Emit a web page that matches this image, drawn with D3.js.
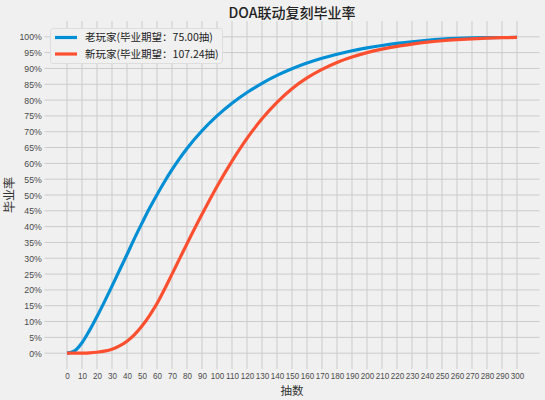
<!DOCTYPE html>
<html>
<head>
<meta charset="utf-8">
<script src="https://cdn.jsdelivr.net/npm/d3@7"></script>
<style>
html,body{margin:0;padding:0;background:#f0f0f0;}
svg{display:block;}
text{font-family:"Noto Sans CJK SC","Noto Sans",sans-serif;}
.tick text{font-family:"Liberation Sans",Arial,sans-serif;}
</style>
</head>
<body>
<svg id="chart" width="545" height="400"></svg>
<script>
// ---- data ----
const pulls = [0,5,10,15,20,25,30,35,40,45,50,55,60,65,70,75,80,90,100,110,120,130,140,150,160,170,180,190,200,210,220,230,240,250,260,270,280,290,300];
const oldPlayer = [0,0.7,3.3,7.2,11.6,16.3,21.2,26.2,31.2,36.3,41.1,45.8,50.1,54.2,58.0,61.5,64.7,70.3,75.0,79.0,82.4,85.3,87.8,89.9,91.7,93.2,94.5,95.6,96.5,97.25,97.9,98.45,98.9,99.25,99.5,99.65,99.73,99.78,99.8];
const newPlayer = [0,0.01,0.04,0.12,0.3,0.65,1.25,2.3,3.8,5.9,8.6,11.9,15.7,20.2,25.0,29.8,34.6,43.9,52.7,60.7,67.9,74.1,79.3,83.6,87.0,89.7,91.9,93.6,95.0,96.1,97.0,97.7,98.3,98.75,99.1,99.38,99.58,99.72,99.8];
const seriesNames = ["老玩家(毕业期望：75.00抽)","新玩家(毕业期望：107.24抽)"];
const seriesColors = ["#008fd5","#fc4f30"];
const xTicks = d3.range(0,301,10);
const yTicks = d3.range(0,101,5);
const titleText = "DOA联动复刻毕业率";
const xLabel = "抽数";
const yLabel = "毕业率";

// ---- layout ----
const svg = d3.select("#chart");
const W = 545, H = 400;
const plot = {left:44.5, right:539.5, top:21, bottom:369};
const cx = (plot.left+plot.right)/2;

const x = d3.scaleLinear().domain([-15,315]).range([plot.left, plot.right]);
const y = d3.scaleLinear().domain([-5,105]).range([plot.bottom, plot.top]);

svg.append("rect").attr("width",W).attr("height",H).attr("fill","#f0f0f0");

// grid
const grid = svg.append("g");
grid.selectAll("line.v").data(xTicks).join("line")
  .attr("x1",d=>x(d)).attr("x2",d=>x(d))
  .attr("y1",plot.top).attr("y2",plot.bottom)
  .attr("stroke","#cbcbcb").attr("stroke-width",1);
grid.selectAll("line.h").data(yTicks).join("line")
  .attr("y1",d=>y(d)).attr("y2",d=>y(d))
  .attr("x1",plot.left).attr("x2",plot.right)
  .attr("stroke","#cbcbcb").attr("stroke-width",1);

// axes (tick labels only)
const xAxis = d3.axisBottom(x).tickValues(xTicks).tickSize(0).tickPadding(3).tickFormat(d3.format("d"));
const gx = svg.append("g").attr("transform",`translate(0,${plot.bottom})`).call(xAxis);
gx.select(".domain").remove();
gx.selectAll("text").attr("font-size",9.5).attr("fill","#4a4a4a").attr("transform","scale(0.85,1)");

const yAxis = d3.axisLeft(y).tickValues(yTicks).tickSize(0).tickPadding(3).tickFormat(d=>d+"%");
const gy = svg.append("g").attr("transform",`translate(${plot.left},0)`).call(yAxis);
gy.select(".domain").remove();
gy.selectAll("text").attr("font-size",9.5).attr("fill","#4a4a4a").attr("transform","scale(0.92,1)");

// lines
const series = [oldPlayer, newPlayer];
const line = d3.line().x((d,i)=>x(pulls[i])).y(d=>y(d)).curve(d3.curveMonotoneX);
series.forEach((s,k)=>{
  svg.append("path").datum(s).attr("d",line)
    .attr("fill","none").attr("stroke",seriesColors[k])
    .attr("stroke-width",3.2).attr("stroke-linecap","butt").attr("stroke-linejoin","round");
});

// title and labels
svg.append("text").attr("x",cx).attr("y",18).attr("text-anchor","middle")
  .attr("font-size",14).attr("font-weight",500).attr("fill","#222").text(titleText);
svg.append("text").attr("x",cx).attr("y",395).attr("text-anchor","middle")
  .attr("font-size",11.5).attr("fill","#333").text(xLabel);
svg.append("text").attr("transform",`translate(14,${(plot.top+plot.bottom)/2}) rotate(-90)`)
  .attr("text-anchor","middle").attr("font-size",12).attr("fill","#333").text(yLabel);

// legend
const lg = svg.append("g");
lg.append("rect").attr("x",50.5).attr("y",28.5).attr("width",172).attr("height",35).attr("rx",2.5)
  .attr("fill","#f0f0f0").attr("stroke","#d8d8d8").attr("stroke-width",0.8);
seriesNames.forEach((n,k)=>{
  const yy = 37.5 + k*16.5;
  lg.append("line").attr("x1",55).attr("x2",77).attr("y1",yy).attr("y2",yy)
    .attr("stroke",seriesColors[k]).attr("stroke-width",3.2);
  lg.append("text").attr("x",85).attr("y",yy).attr("dy","0.35em")
    .attr("font-size",10.5).attr("fill","#222").text(n);
});
</script>
</body>
</html>
